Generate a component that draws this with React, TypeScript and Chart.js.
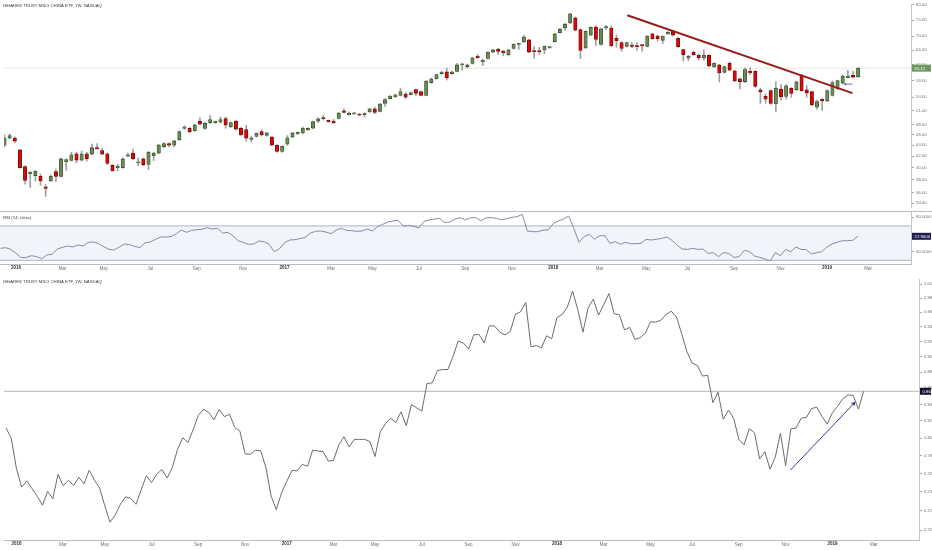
import React, { useEffect, useRef } from 'react';
import { Chart, registerables } from 'chart.js';

Chart.register(...registerables);

const CHART_TITLE = 'ISHARES TRUST MSCI CHINA ETF, 1W, NASDAQ';
const RSI_TITLE = 'RSI (14, close)';

// Week index 0 = week starting 4 Jan 2016. Candles start three weeks earlier.
const PRICE_FIRST_WEEK = -3;
const openPrices = [
  44.03, 45.38, 45.38, 43.14, 40.18, 38.94, 38.68, 38.57, 36.87, 37.79,
  39.32, 38.52, 41.02, 41.24, 42.44, 41.31, 42.44, 42.39, 43.56, 43.03,
  42.44, 40.43, 40.02, 40.02, 42.01, 42.56, 40.80, 41.52, 40.57, 42.10,
  42.56, 43.72, 44.34, 44.03, 45.07, 47.29, 47.29, 46.82, 48.78, 47.29,
  48.47, 48.47, 48.58, 49.32, 47.60, 48.78, 47.29, 47.03, 45.13, 45.69,
  46.63, 45.87, 45.57, 44.03, 42.85, 44.21, 45.57, 46.19, 46.38, 46.96,
  47.34, 48.78, 49.44, 48.92, 48.78, 49.32, 50.97, 50.14, 50.28, 50.28,
  50.14, 50.72, 51.39, 50.85, 52.61, 53.69, 54.08, 54.42, 54.71, 54.60,
  55.78, 55.32, 54.42, 57.48, 58.42, 59.72, 60.18, 59.72, 60.29, 61.96,
  61.54, 62.38, 64.30, 62.82, 63.68, 65.44, 66.32, 65.70, 64.70, 66.47,
  67.60, 68.37, 68.93, 65.90, 65.90, 66.05, 66.60, 68.45, 71.12, 72.51,
  74.10, 75.75, 72.00, 66.60, 70.37, 72.80, 67.60, 72.51, 72.51, 69.40,
  68.18, 67.07, 67.36, 67.26, 67.50, 67.07, 70.74, 70.07, 68.82, 70.74,
  71.50, 69.40, 66.15, 63.76, 65.44, 64.55, 63.76, 64.55, 61.45, 61.96,
  60.05, 62.38, 60.45, 58.42, 57.72, 60.29, 60.29, 55.70, 54.20, 55.55,
  52.46, 55.93, 54.20, 56.07, 55.78, 59.31, 55.70, 55.32, 51.75, 53.54,
  53.18, 54.42, 55.93, 57.32, 58.68, 59.31, 58.90,
];
const highPrices = [
  46.00, 46.19, 45.63, 43.26, 40.30, 39.30, 39.53, 38.94, 37.22, 38.80,
  39.75, 41.70, 41.52, 42.73, 42.73, 42.97, 42.73, 44.21, 44.34, 43.44,
  42.56, 40.50, 40.57, 41.70, 42.56, 43.32, 41.69, 41.69, 42.85, 42.73,
  44.21, 44.50, 44.46, 44.94, 46.80, 47.80, 47.48, 48.10, 49.44, 48.47,
  49.94, 48.80, 49.64, 49.64, 48.60, 48.90, 47.48, 47.93, 45.69, 46.40,
  46.96, 46.50, 45.70, 44.10, 43.90, 45.87, 46.50, 46.60, 47.60, 47.40,
  48.80, 49.56, 50.00, 49.00, 49.12, 50.60, 51.40, 50.77, 50.60, 50.40,
  50.49, 51.50, 51.75, 52.60, 53.69, 54.40, 54.70, 56.15, 55.10, 55.20,
  55.93, 55.40, 58.00, 58.60, 59.60, 60.29, 61.12, 60.45, 62.38, 62.38,
  62.20, 64.00, 64.80, 63.52, 65.60, 66.20, 66.50, 65.90, 66.20, 67.80,
  68.00, 70.37, 69.10, 66.98, 66.80, 67.20, 67.10, 70.90, 72.40, 74.01,
  77.20, 76.00, 72.20, 71.70, 72.90, 73.20, 72.50, 73.30, 73.20, 70.37,
  68.45, 68.30, 68.18, 68.18, 67.50, 70.20, 70.90, 70.37, 70.07, 71.40,
  71.80, 69.60, 66.30, 64.55, 65.60, 64.80, 66.05, 64.70, 62.50, 62.10,
  61.70, 62.82, 60.60, 58.68, 61.20, 61.20, 60.45, 56.15, 54.78, 55.70,
  57.64, 57.00, 57.00, 56.30, 57.87, 59.48, 56.70, 55.40, 53.32, 53.69,
  55.70, 57.87, 58.10, 59.31, 60.53, 60.29, 61.30,
];
const lowPrices = [
  43.72, 45.26, 44.52, 39.90, 37.28, 36.77, 37.79, 37.12, 35.39, 37.70,
  37.74, 38.40, 39.58, 41.13, 40.85, 41.13, 41.13, 42.27, 43.30, 42.27,
  40.57, 39.40, 39.48, 39.90, 41.90, 41.40, 40.33, 40.33, 39.65, 41.24,
  42.44, 43.60, 43.72, 43.72, 44.90, 47.15, 46.38, 46.70, 47.99, 47.15,
  48.27, 48.30, 48.33, 47.29, 47.50, 47.00, 45.87, 44.76, 44.65, 45.60,
  45.75, 45.75, 43.90, 42.70, 42.70, 44.03, 45.45, 46.10, 46.19, 46.90,
  47.20, 48.47, 49.00, 48.50, 48.27, 49.20, 50.49, 50.00, 50.20, 49.90,
  49.64, 50.60, 50.35, 50.70, 51.90, 53.60, 54.00, 54.30, 53.62, 54.50,
  54.35, 54.30, 54.30, 57.30, 58.30, 59.55, 58.11, 59.55, 60.12, 60.60,
  61.12, 62.20, 63.70, 61.80, 63.50, 65.30, 64.80, 64.40, 64.50, 66.30,
  66.20, 68.18, 65.30, 63.76, 64.80, 65.00, 66.50, 68.30, 71.00, 71.80,
  73.90, 71.60, 63.68, 66.40, 70.20, 67.36, 67.40, 72.00, 67.07, 66.80,
  65.70, 66.90, 66.60, 65.90, 65.70, 66.90, 69.10, 68.60, 67.90, 70.60,
  70.07, 66.80, 63.00, 63.10, 64.50, 63.25, 63.25, 61.45, 61.30, 57.64,
  59.90, 60.45, 57.70, 55.93, 57.48, 59.48, 56.30, 52.61, 52.61, 52.40,
  50.72, 53.32, 53.54, 54.00, 55.55, 55.40, 54.00, 52.03, 51.30, 51.03,
  53.00, 54.27, 55.80, 57.17, 58.60, 58.68, 58.80,
];
const closePrices = [
  45.38, 45.87, 44.76, 40.02, 37.88, 39.21, 39.37, 37.79, 36.62, 38.57,
  38.52, 41.52, 41.40, 42.27, 41.31, 42.44, 41.57, 43.56, 43.32, 42.39,
  40.73, 39.48, 40.18, 41.52, 42.27, 41.57, 41.02, 40.49, 42.73, 42.56,
  44.03, 44.34, 44.03, 44.83, 46.63, 47.60, 46.63, 47.99, 48.13, 48.33,
  49.12, 48.66, 49.12, 47.93, 48.47, 47.15, 46.00, 45.38, 45.44, 46.32,
  46.00, 46.38, 44.03, 42.85, 43.82, 45.44, 46.38, 46.51, 47.29, 47.29,
  48.66, 49.26, 49.26, 48.66, 48.47, 50.49, 50.63, 50.28, 50.49, 50.00,
  50.49, 51.39, 50.63, 52.46, 53.47, 54.26, 54.58, 55.32, 54.00, 55.10,
  54.86, 54.42, 57.87, 58.42, 59.48, 60.13, 58.68, 60.13, 61.96, 62.20,
  61.96, 63.86, 63.94, 63.25, 65.44, 66.05, 65.62, 65.26, 66.05, 67.66,
  67.85, 69.79, 65.44, 65.50, 65.50, 67.07, 66.98, 70.74, 72.21, 73.71,
  77.00, 71.85, 65.90, 71.50, 72.72, 69.10, 72.30, 73.00, 67.26, 68.70,
  66.47, 68.18, 67.07, 66.98, 67.26, 70.07, 69.30, 69.30, 70.07, 71.20,
  70.37, 66.98, 64.70, 64.30, 64.70, 63.94, 64.55, 61.70, 62.38, 59.88,
  61.54, 60.62, 57.87, 57.72, 60.78, 59.88, 56.54, 55.32, 53.54, 52.61,
  56.15, 54.06, 56.70, 54.86, 57.64, 55.55, 54.94, 52.24, 53.00, 53.18,
  55.55, 57.48, 57.95, 59.07, 59.07, 58.84, 61.12,
];
const rsiValues = [
  43.9, 44.7, 42.7, 38.1, 33.1, 33.4, 35.4, 34.2, 31.9, 36.2,
  36.9, 43.1, 45.1, 46.6, 45.5, 47.8, 46.6, 50.9, 51.3, 49.3,
  45.8, 42.7, 42.0, 45.5, 48.9, 48.2, 46.2, 44.7, 50.5, 51.3,
  54.4, 57.1, 57.1, 57.5, 60.6, 65.2, 62.5, 64.8, 65.6, 66.0,
  67.9, 66.4, 67.2, 61.7, 62.5, 58.6, 52.8, 50.9, 48.6, 48.9,
  52.4, 51.7, 48.6, 40.0, 43.5, 50.5, 53.6, 54.0, 55.2, 56.7,
  61.7, 63.7, 64.1, 62.9, 61.0, 65.2, 67.2, 64.8, 64.5, 63.7,
  64.1, 66.4, 64.1, 69.1, 71.8, 74.5, 75.7, 76.5, 69.5, 70.7,
  69.5, 67.6, 75.3, 76.9, 78.0, 78.8, 73.8, 74.5, 78.0, 79.6,
  76.9, 79.6, 79.6, 76.1, 79.2, 79.6, 78.8, 77.2, 78.4, 80.0,
  80.7, 83.4, 64.1, 63.3, 63.3, 65.2, 65.2, 72.6, 75.7, 78.0,
  81.5, 67.2, 50.9, 57.5, 60.2, 54.4, 58.6, 58.6, 49.7, 51.7,
  48.6, 50.9, 49.3, 49.3, 49.7, 54.4, 53.6, 54.4, 55.5, 57.1,
  53.2, 47.4, 43.1, 42.7, 43.9, 42.7, 43.1, 38.1, 38.9, 34.2,
  38.9, 38.1, 33.4, 34.2, 41.6, 40.0, 35.0, 33.4, 31.5, 29.2,
  38.9, 35.4, 42.7, 40.0, 45.5, 42.7, 42.4, 37.3, 38.9, 40.0,
  45.5, 49.0, 50.9, 52.8, 52.8, 53.2, 57.9,
];
const RATIO_FIRST_WEEK = -2;
const ratioValues = [
  0.8117, 0.7996, 0.7653, 0.7450, 0.7517, 0.7433, 0.7353, 0.7257, 0.7405, 0.7325,
  0.7589, 0.7465, 0.7524, 0.7468, 0.7556, 0.7486, 0.7635, 0.7528, 0.7440, 0.7250,
  0.7081, 0.7155, 0.7267, 0.7346, 0.7329, 0.7267, 0.7422, 0.7574, 0.7500, 0.7592,
  0.7642, 0.7549, 0.7664, 0.7872, 0.8003, 0.7947, 0.8098, 0.8268, 0.8338, 0.8303,
  0.8214, 0.8338, 0.8252, 0.8280, 0.8125, 0.8079, 0.7817, 0.7813, 0.7861, 0.7854,
  0.7664, 0.7353, 0.7210, 0.7388, 0.7510, 0.7632, 0.7628, 0.7700, 0.7678, 0.7861,
  0.7851, 0.7843, 0.7737, 0.7744, 0.7917, 0.8015, 0.7898, 0.7984, 0.7984, 0.7984,
  0.7958, 0.7788, 0.8071, 0.8167, 0.8233, 0.8183, 0.8310, 0.8144, 0.8397, 0.8358,
  0.8318, 0.8658, 0.8666, 0.8822, 0.8835, 0.8835, 0.9003, 0.9209, 0.9182, 0.9101,
  0.9291, 0.9296, 0.9182, 0.9415, 0.9410, 0.9327, 0.9291, 0.9335, 0.9571, 0.9607,
  0.9739, 0.9131, 0.9148, 0.9118, 0.9278, 0.9239, 0.9526, 0.9571, 0.9671, 0.9901,
  0.9639, 0.9327, 0.9662, 0.9785, 0.9562, 0.9707, 0.9864, 0.9580, 0.9567, 0.9357,
  0.9393, 0.9230, 0.9252, 0.9313, 0.9468, 0.9464, 0.9490, 0.9571, 0.9616, 0.9535,
  0.9305, 0.9067, 0.8918, 0.8889, 0.8752, 0.8761, 0.8421, 0.8549, 0.8221, 0.8330,
  0.8233, 0.7984, 0.7921, 0.8109, 0.8060, 0.7762, 0.7843, 0.7646, 0.7780, 0.8056,
  0.7686, 0.8106, 0.8117, 0.8233, 0.8244, 0.8349, 0.8365, 0.8252, 0.8163, 0.8299,
  0.8377, 0.8469, 0.8516, 0.8509, 0.8342, 0.8561,
];

const timeTickWeeks = [0, 9, 17, 26, 35, 44, 52, 61, 69, 78, 87, 96, 104, 113, 122, 130, 139, 148, 157, 165];
const timeTickLabels = ['2016', 'Mar', 'May', 'Jul', 'Sep', 'Nov', '2017', 'Mar', 'May', 'Jul', 'Sep', 'Nov', '2018', 'Mar', 'May', 'Jul', 'Sep', 'Nov', '2019', 'Mar'];
const priceTickValues = [34.4, 36, 38, 40, 42, 44, 46, 48, 51, 54, 58, 62, 66, 70, 75, 80];
const rsiTickValues = [40, 80];
const rsiBandLevels = [70, 30];
const ratioTickValues = [0.70, 0.72, 0.74, 0.76, 0.78, 0.80, 0.82, 0.84, 0.86, 0.88, 0.90, 0.92, 0.94, 0.96, 0.98, 1.00];

const trendLineWeeks = [118.1, 161.9];
const trendLinePrices = [76.57, 54.94];
const priceArrowWeeks = [161.9, 160.5];
const priceArrowPrices = [57.1, 57.1];
const ratioArrowWeeks = [148.9, 161.1];
const ratioArrowValues = [0.7635, 0.8409];

const PRICE_WEEK_RANGE = [-3.098, 173.28];
const RATIO_WEEK_RANGE = [-2.395, 173.66];
const PRICE_RANGE = [33.83, 80.33];
const RSI_RANGE = [25.7, 86.16];
const RATIO_RANGE = [0.6949, 1.0075];

const FONT = '"Liberation Sans", Arial, sans-serif';
const SMALL = 4.3;
const TIME_FONT = 4.5;
const TIME_PAD = 2;

const isYear = (label: string) => /^\d{4}$/.test(label);

function drawText(chart: any, text: string, x: number, y: number, color = '#3a3a3a') {
  const ctx = chart.ctx;
  ctx.save();
  ctx.font = `${SMALL}px ${FONT}`;
  ctx.fillStyle = color;
  ctx.textBaseline = 'middle';
  ctx.textAlign = 'left';
  ctx.fillText(text, x, y);
  ctx.restore();
}

function drawValueBox(chart: any, value: number, text: string, bg: string, fg: string) {
  const ctx = chart.ctx;
  const area = chart.chartArea;
  const y = chart.scales.y.getPixelForValue(value);
  const x0 = area.right + 1;
  const w = chart.width - x0 - 1;
  ctx.save();
  ctx.fillStyle = bg;
  ctx.fillRect(x0, y - 3.5, w, 7);
  ctx.fillStyle = fg;
  ctx.font = `${SMALL}px ${FONT}`;
  ctx.textBaseline = 'middle';
  ctx.textAlign = 'left';
  ctx.fillText(text, x0 + 2.5, y + 0.3);
  ctx.restore();
}

// Year labels of the time axis, in bold, placed with the x scale
function drawYearLabels(chart: any) {
  const s = chart.scales.x;
  const ctx = chart.ctx;
  ctx.save();
  ctx.font = `bold ${TIME_FONT}px ${FONT}`;
  ctx.fillStyle = '#2e2e2e';
  ctx.textAlign = 'center';
  ctx.textBaseline = 'top';
  timeTickWeeks.forEach((w, i) => {
    if (isYear(timeTickLabels[i])) ctx.fillText(timeTickLabels[i], s.getPixelForValue(w), s.top + TIME_PAD);
  });
  ctx.restore();
}

const rightAxis = (ticks: number[], digits: number, width: number) => ({
  position: 'right',
  afterBuildTicks: (s: any) => { s.ticks = ticks.map((v) => ({ value: v })); },
  afterFit: (s: any) => { s.width = width; s.paddingTop = 0; s.paddingBottom = 0; },
  ticks: {
    callback: (v: any) => Number(v).toFixed(digits),
    font: { size: SMALL, family: FONT },
    color: '#707070',
    padding: 2,
    autoSkip: false,
  },
  grid: { drawOnChartArea: false, drawTicks: true, tickLength: 3, color: '#a8a8a8' },
  border: { display: true, color: '#c4c4c4' },
});

const timeAxis = (range: number[], height: number) => ({
  type: 'linear',
  position: 'bottom',
  min: range[0],
  max: range[1],
  offset: false,
  afterBuildTicks: (s: any) => { s.ticks = timeTickWeeks.map((v) => ({ value: v })); },
  afterFit: (s: any) => { s.height = height; s.paddingLeft = 0; s.paddingRight = 0; },
  ticks: {
    callback: (v: any) => {
      const label = timeTickLabels[timeTickWeeks.indexOf(Number(v))];
      return isYear(label) ? '' : label;
    },
    autoSkip: false,
    maxRotation: 0,
    minRotation: 0,
    padding: TIME_PAD,
    font: { size: TIME_FONT, family: FONT },
    color: '#6f6f6f',
  },
  grid: { display: true, drawOnChartArea: false, drawTicks: false, color: '#bdbdbd' },
  border: { display: true, color: '#bdbdbd' },
});

const baseOptions = {
  responsive: false,
  maintainAspectRatio: false,
  animation: false,
  devicePixelRatio: 1,
  events: [],
  plugins: { legend: { display: false }, tooltip: { enabled: false }, title: { display: false } },
};

export default function App() {
  const topRef = useRef<HTMLCanvasElement>(null);
  const rsiRef = useRef<HTMLCanvasElement>(null);
  const botRef = useRef<HTMLCanvasElement>(null);

  useEffect(() => {
    const charts: Chart[] = [];
    const n = openPrices.length;
    const weeks = openPrices.map((_, i) => PRICE_FIRST_WEEK + i);
    const up = closePrices.map((c, i) => c >= openPrices[i]);
    const lastClose = closePrices[n - 1];
    const lastRsi = rsiValues[rsiValues.length - 1];
    const lastRatio = ratioValues[ratioValues.length - 1];

    if (topRef.current) {
      charts.push(new Chart(topRef.current, {
        type: 'bar',
        data: {
          datasets: [
            {
              type: 'line',
              data: [{ x: PRICE_WEEK_RANGE[0], y: lastClose }, { x: PRICE_WEEK_RANGE[1], y: lastClose }],
              borderColor: '#ece5da', borderWidth: 1, pointRadius: 0, order: 6,
            },
            {
              type: 'bar',
              data: weeks.map((w, i) => ({ x: w, y: [lowPrices[i], highPrices[i]] })),
              backgroundColor: '#a0a0a0', borderWidth: 0, barThickness: 1, grouped: false, order: 5,
            },
            {
              type: 'bar',
              data: weeks.map((w, i) => ({ x: w, y: [openPrices[i], closePrices[i]] })),
              backgroundColor: up.map((u) => (u ? '#6a8a58' : '#d20b0b')),
              borderColor: up.map((u) => (u ? '#3a5430' : '#7a0505')),
              borderWidth: 0.8, borderSkipped: false, barThickness: 3.4, minBarLength: 1.2, grouped: false, order: 4,
            },
            {
              type: 'line',
              data: trendLineWeeks.map((w, i) => ({ x: w, y: trendLinePrices[i] })),
              borderColor: '#9b1c1c', borderWidth: 2, pointRadius: 0, order: 1,
            },
            {
              type: 'line',
              data: priceArrowWeeks.map((w, i) => ({ x: w, y: priceArrowPrices[i] })),
              borderColor: '#7474bd', borderWidth: 1, pointRadius: [0, 2], pointStyle: 'triangle', pointRotation: 270,
              pointBackgroundColor: '#7474bd', pointBorderWidth: 0, order: 0,
            },
          ],
        } as any,
        options: {
          ...baseOptions,
          layout: { padding: 0 },
          scales: {
            x: { type: 'linear', display: false, min: PRICE_WEEK_RANGE[0], max: PRICE_WEEK_RANGE[1], offset: false },
            y: { type: 'logarithmic', min: PRICE_RANGE[0], max: PRICE_RANGE[1], ...rightAxis(priceTickValues, 2, 21) },
          },
        } as any,
        plugins: [{
          id: 'topOverlay',
          afterDraw: (chart: any) => {
            drawText(chart, CHART_TITLE, 3, 6);
            drawValueBox(chart, lastClose, lastClose.toFixed(2), '#6f9762', '#ffffff');
          },
        }],
      }));
    }

    if (rsiRef.current) {
      charts.push(new Chart(rsiRef.current, {
        type: 'line',
        data: {
          datasets: [
            {
              data: [{ x: PRICE_WEEK_RANGE[0], y: rsiBandLevels[0] }, { x: PRICE_WEEK_RANGE[1], y: rsiBandLevels[0] }],
              borderColor: '#a9b5ca', borderWidth: 1, pointRadius: 0, fill: false, order: 3,
            },
            {
              data: [{ x: PRICE_WEEK_RANGE[0], y: rsiBandLevels[1] }, { x: PRICE_WEEK_RANGE[1], y: rsiBandLevels[1] }],
              borderColor: '#a9b5ca', borderWidth: 1, pointRadius: 0, fill: '-1', backgroundColor: '#f1f4fa', order: 2,
            },
            {
              data: rsiValues.map((r, i) => ({ x: PRICE_FIRST_WEEK + i, y: r })),
              borderColor: '#8b88a8', borderWidth: 1, pointRadius: 0, fill: false, order: 0,
            },
          ],
        } as any,
        options: {
          ...baseOptions,
          layout: { padding: 0 },
          plugins: { ...baseOptions.plugins, filler: { drawTime: 'beforeDatasetsDraw' } },
          scales: {
            x: timeAxis(PRICE_WEEK_RANGE, 11),
            y: { type: 'linear', min: RSI_RANGE[0], max: RSI_RANGE[1], ...rightAxis(rsiTickValues, 4, 21) },
          },
        } as any,
        plugins: [{
          id: 'rsiOverlay',
          afterDraw: (chart: any) => {
            drawText(chart, RSI_TITLE, 3, 6);
            drawValueBox(chart, lastRsi, lastRsi.toFixed(4), '#1d1d52', '#ffffff');
            drawYearLabels(chart);
          },
        }],
      }));
    }

    if (botRef.current) {
      charts.push(new Chart(botRef.current, {
        type: 'line',
        data: {
          datasets: [
            {
              data: [{ x: RATIO_WEEK_RANGE[0], y: lastRatio }, { x: RATIO_WEEK_RANGE[1], y: lastRatio }],
              borderColor: '#c2c2c2', borderWidth: 1.2, pointRadius: 0, fill: false, order: 3,
            },
            {
              data: ratioValues.map((v, i) => ({ x: RATIO_FIRST_WEEK + i, y: v })),
              borderColor: '#6c6c6c', borderWidth: 1, pointRadius: 0, fill: false, order: 2,
            },
            {
              data: ratioArrowWeeks.map((w, i) => ({ x: w, y: ratioArrowValues[i] })),
              borderColor: '#3c3ca0', borderWidth: 1, pointRadius: [0, 2.6], pointStyle: 'triangle', pointRotation: 43,
              pointBackgroundColor: '#3c3ca0', pointBorderWidth: 0, fill: false, order: 1,
            },
          ],
        } as any,
        options: {
          ...baseOptions,
          layout: { padding: { top: 2, left: 0, right: 0, bottom: 0 } },
          scales: {
            x: timeAxis(RATIO_WEEK_RANGE, 10),
            y: { type: 'logarithmic', min: RATIO_RANGE[0], max: RATIO_RANGE[1], ...rightAxis(ratioTickValues, 2, 13) },
          },
        } as any,
        plugins: [{
          id: 'ratioOverlay',
          afterDraw: (chart: any) => {
            drawText(chart, CHART_TITLE, 3, 7);
            drawValueBox(chart, lastRatio, lastRatio.toFixed(2), '#131336', '#ffffff');
            drawYearLabels(chart);
          },
        }],
      }));
    }

    return () => { charts.forEach((c) => c.destroy()); };
  }, []);

  return (
    <div style={{ position: 'absolute', left: 0, top: 0, width: 932, height: 550, background: '#ffffff', overflow: 'hidden' }}>
      <canvas ref={topRef} width={932} height={211} style={{ position: 'absolute', left: 0, top: 0, display: 'block' }} />
      <div style={{ position: 'absolute', left: 0, top: 211, width: 932, height: 1, background: '#bcbcbc' }} />
      <canvas ref={rsiRef} width={932} height={63} style={{ position: 'absolute', left: 0, top: 212, display: 'block' }} />
      <canvas ref={botRef} width={932} height={275} style={{ position: 'absolute', left: 0, top: 275, display: 'block' }} />
    </div>
  );
}
